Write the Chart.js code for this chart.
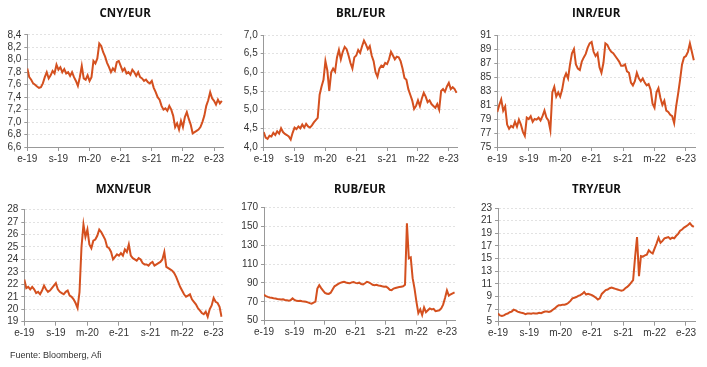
<!DOCTYPE html>
<html>
<head>
<meta charset="utf-8">
<script src="https://cdn.jsdelivr.net/npm/chart.js@4/dist/chart.umd.min.js"></script>
<style>
  body { margin: 0; background: #fff; }
  #wrap { position: relative; width: 707px; height: 367px; overflow: hidden; }
  #wrap canvas { position: absolute; }
  .source { position: absolute; left: 10px; top: 350px; font: 9px 'Liberation Sans', Arial, sans-serif; color: #333; }
</style>
</head>
<body>
<div id="wrap">
  <canvas id="cny" width="235" height="171" style="left:0;top:0"></canvas>
  <canvas id="brl" width="235" height="171" style="left:235px;top:0"></canvas>
  <canvas id="inr" width="237" height="171" style="left:470px;top:0"></canvas>
  <canvas id="mxn" width="235" height="176" style="left:0;top:170px"></canvas>
  <canvas id="rub" width="235" height="176" style="left:235px;top:170px"></canvas>
  <canvas id="try" width="237" height="176" style="left:470px;top:170px"></canvas>
  <div class="source">Fuente: Bloomberg, Afi</div>
</div>
<script>
// half-month observations, Jan 2019 .. Mar 2023 (x = month index from e-19)
const xTickMonths = [0, 8, 16, 24, 32, 40, 48];
const xTickLabels = ['e-19', 's-19', 'm-20', 'e-21', 's-21', 'm-22', 'e-23'];

const cnyEur = [7.86, 7.72, 7.68, 7.62, 7.60, 7.57, 7.55, 7.56, 7.62, 7.72, 7.80, 7.70, 7.75, 7.82, 7.78, 7.92, 7.84, 7.88, 7.80, 7.85,
  7.78, 7.80, 7.74, 7.80, 7.72, 7.66, 7.58, 7.72, 7.90, 7.70, 7.68, 7.75, 7.66, 7.72, 7.98, 7.94, 8.02, 8.26, 8.22, 8.12,
  8.05, 7.95, 7.88, 7.80, 7.86, 7.82, 7.96, 7.98, 7.90, 7.82, 7.86, 7.78, 7.80, 7.76, 7.84, 7.80, 7.74, 7.80, 7.72, 7.70,
  7.66, 7.68, 7.64, 7.62, 7.66, 7.55, 7.48, 7.40, 7.36, 7.26, 7.20, 7.22, 7.18, 7.26, 7.20, 7.10, 6.92, 6.98, 6.88, 7.02,
  6.92, 7.08, 7.16, 7.05, 6.96, 6.82, 6.84, 6.86, 6.88, 6.92, 7.00, 7.10, 7.26, 7.35, 7.48, 7.38, 7.34, 7.28, 7.36, 7.30, 7.34];

const brlEur = [4.40, 4.25, 4.22, 4.30, 4.28, 4.38, 4.32, 4.42, 4.36, 4.50, 4.40, 4.35, 4.32, 4.28, 4.20, 4.38, 4.52, 4.48, 4.55, 4.50,
  4.60, 4.52, 4.62, 4.55, 4.52, 4.58, 4.66, 4.72, 4.78, 5.40, 5.62, 5.80, 6.30, 6.05, 5.50, 6.00, 6.10, 6.02, 6.40, 6.60,
  6.35, 6.55, 6.68, 6.62, 6.45, 6.25, 6.10, 6.40, 6.45, 6.60, 6.52, 6.70, 6.85, 6.75, 6.62, 6.70, 6.45, 6.30, 6.00, 5.88,
  6.10, 6.18, 6.15, 6.25, 6.22, 6.35, 6.55, 6.45, 6.35, 6.42, 6.40, 6.30, 6.10, 5.85, 5.80, 5.55, 5.40, 5.25, 5.02, 5.10,
  5.25, 5.10, 5.30, 5.45, 5.35, 5.20, 5.25, 5.15, 5.10, 5.05, 5.15, 5.00, 5.50, 5.55, 5.48, 5.62, 5.72, 5.55, 5.60, 5.55, 5.45];

const inrEur = [80.0, 81.0, 81.8, 80.2, 80.8, 78.2, 77.6, 78.0, 77.8, 78.6, 77.9, 78.9, 78.2, 77.2, 76.6, 79.2, 79.0, 79.4, 78.6, 79.0,
  78.9, 79.2, 78.8, 79.4, 80.2, 79.2, 78.8, 77.4, 82.8, 83.6, 82.2, 82.8, 82.2, 83.2, 84.8, 85.5, 84.8, 86.8, 88.4, 89.0,
  86.8, 86.2, 86.0, 87.2, 87.8, 88.3, 89.2, 89.8, 90.0, 88.6, 88.0, 88.4, 86.4, 85.6, 87.0, 89.8, 89.6, 89.0, 88.6, 88.4,
  88.0, 87.6, 87.2, 86.6, 86.6, 86.8, 85.8, 85.6, 84.2, 83.8, 84.4, 85.6, 84.8, 84.4, 84.8, 84.2, 83.8, 84.0, 83.2, 81.2,
  80.6, 82.8, 83.4, 82.0, 81.0, 81.6, 80.2, 80.0, 79.6, 79.4, 78.4, 80.8, 82.6, 84.6, 86.8, 87.8, 88.0, 88.6, 89.8, 88.6, 87.4];

const mxnEur = [22.4, 21.7, 21.8, 21.6, 21.8, 21.6, 21.3, 21.4, 21.2, 21.5, 21.9, 21.6, 21.4, 21.5, 21.7, 21.9, 22.1, 21.6, 21.4, 21.3,
  21.2, 21.4, 21.5, 21.1, 21.0, 20.8, 20.5, 20.1, 21.4, 25.0, 26.8, 25.8, 26.4, 25.2, 24.9, 25.5, 25.6, 25.9, 26.4, 26.2,
  25.9, 25.6, 25.0, 24.9, 24.6, 24.0, 24.2, 24.4, 24.3, 24.5, 24.3, 24.8, 24.6, 25.2, 24.3, 24.1, 24.0, 23.9, 24.1, 24.0,
  23.7, 23.6, 23.6, 23.5, 23.7, 23.8, 23.5, 23.6, 23.7, 23.8, 24.0, 24.6, 23.4, 23.3, 23.2, 23.1, 22.9, 22.6, 22.2, 21.8,
  21.5, 21.2, 21.0, 21.1, 21.2, 20.8, 20.6, 20.4, 20.1, 19.9, 19.7, 19.6, 19.8, 19.4, 20.0, 20.3, 20.9, 20.6, 20.5, 20.2, 19.4];

const rubEur = [77.5, 76.0, 75.2, 74.6, 74.2, 73.8, 73.5, 73.0, 72.8, 72.4, 72.6, 72.0, 71.6, 71.2, 71.8, 73.6, 72.0, 71.0, 70.8, 71.0,
  70.6, 70.4, 70.0, 69.4, 68.6, 68.0, 69.0, 70.2, 84.0, 87.5, 84.5, 81.8, 79.5, 78.6, 78.4, 79.6, 83.0, 86.4, 87.6, 89.0,
  90.0, 90.6, 91.2, 90.4, 90.0, 89.6, 90.6, 91.0, 90.0, 89.6, 90.2, 88.8, 88.4, 89.6, 91.2, 90.6, 89.4, 88.0, 87.6, 88.0,
  87.2, 87.0, 86.4, 86.0, 86.2, 84.8, 82.8, 82.4, 84.0, 84.6, 85.2, 85.6, 86.0, 86.4, 88.0, 153.0, 116.0, 117.0, 95.0, 84.0,
  70.0, 58.0, 62.0, 56.0, 64.0, 59.0, 61.0, 63.0, 62.0, 62.5, 60.0, 60.5, 61.0, 63.0, 67.0, 74.0, 82.0, 76.5, 78.0, 79.0, 80.0];

const tryEur = [6.3, 6.0, 5.9, 6.0, 6.2, 6.3, 6.5, 6.6, 6.9, 6.8, 6.6, 6.5, 6.4, 6.35, 6.2, 6.3, 6.3, 6.25, 6.35, 6.3,
  6.3, 6.4, 6.35, 6.5, 6.6, 6.6, 6.55, 6.65, 6.9, 7.1, 7.4, 7.6, 7.6, 7.7, 7.7, 7.8, 8.0, 8.3, 8.7, 8.8,
  8.9, 9.1, 9.2, 9.4, 9.7, 9.3, 9.4, 9.3, 9.2, 9.0, 8.8, 8.5, 8.7, 9.4, 9.7, 10.0, 10.1, 10.3, 10.4, 10.3,
  10.2, 10.1, 10.0, 9.9, 10.0, 10.3, 10.5, 10.8, 11.2, 11.6, 15.2, 18.4, 12.2, 15.4, 15.3, 15.5, 15.6, 16.3, 16.0, 15.8,
  16.6, 17.4, 18.3, 17.5, 17.8, 18.2, 18.3, 18.4, 18.1, 18.3, 18.2, 18.6, 18.9, 19.4, 19.6, 19.9, 20.1, 20.3, 20.6, 20.2, 20.0];

const lineColor = '#d4501f';
const tickFont = { family: "'Liberation Sans', Arial, sans-serif", size: 10 };

function makePanel(id, title, values, yMin, yMax, yStep, decimals, p) {
  const points = values.map((v, i) => ({ x: i / 2, y: v }));
  return new Chart(document.getElementById(id), {
    type: 'line',
    data: {
      datasets: [{
        data: points,
        borderColor: lineColor,
        borderWidth: 2,
        pointRadius: 0,
        tension: 0
      }]
    },
    options: {
      responsive: false,
      animation: false,
      devicePixelRatio: 1,
      layout: { padding: { left: 0, right: p.right, top: 0, bottom: p.bottom } },
      plugins: {
        legend: { display: false },
        tooltip: { enabled: false },
        title: {
          display: true,
          text: title,
          fullSize: false,
          color: '#111',
          font: { family: "'Open Sans', sans-serif", size: 11.5, weight: 'bold', lineHeight: 1.2 },
          padding: { top: p.titleTop, bottom: p.titleBottom }
        }
      },
      scales: {
        x: {
          type: 'linear',
          min: 0,
          max: 50.3,
          afterBuildTicks: s => { s.ticks = xTickMonths.map(v => ({ value: v })); },
          afterFit: s => { s.height = 24; },
          grid: { drawOnChartArea: false, drawTicks: true, tickLength: 4, color: '#999' },
          border: { display: true, color: '#999' },
          ticks: {
            color: '#333', font: tickFont, padding: 2, maxRotation: 0, autoSkip: false,
            callback: v => xTickLabels[xTickMonths.indexOf(v)]
          }
        },
        y: {
          min: yMin,
          max: yMax,
          afterFit: s => { s.width = p.axis; },
          grid: { color: '#e2e2e2', drawTicks: true, tickLength: 3, tickColor: '#999' },
          border: { display: true, color: '#999', dash: [2, 2] },
          ticks: {
            stepSize: yStep, autoSkip: false, color: '#333', font: tickFont, padding: 3,
            callback: v => v.toFixed(decimals).replace('.', ',')
          }
        }
      }
    }
  });
}

makePanel('cny', 'CNY/EUR', cnyEur, 6.6, 8.4, 0.2, 1, { axis: 27.3, right: 12, bottom: 0, titleTop: 7, titleBottom: 14 });
makePanel('brl', 'BRL/EUR', brlEur, 4.0, 7.0, 0.5, 1, { axis: 28.7, right: 12.3, bottom: 0, titleTop: 7, titleBottom: 14.2 });
makePanel('inr', 'INR/EUR', inrEur, 75, 91, 2, 0, { axis: 27.3, right: 12, bottom: 0, titleTop: 7, titleBottom: 14.2 });
makePanel('mxn', 'MXN/EUR', mxnEur, 19, 28, 1, 0, { axis: 24.3, right: 12.3, bottom: 0.3, titleTop: 12.4, titleBottom: 13.4 });
makePanel('rub', 'RUB/EUR', rubEur, 50, 170, 20, 0, { axis: 29, right: 14.3, bottom: 1.3, titleTop: 12.4, titleBottom: 11.1 });
makePanel('try', 'TRY/EUR', tryEur, 5, 23, 2, 0, { axis: 28, right: 12, bottom: 0.3, titleTop: 12.4, titleBottom: 11.8 });
</script>
</body>
</html>
